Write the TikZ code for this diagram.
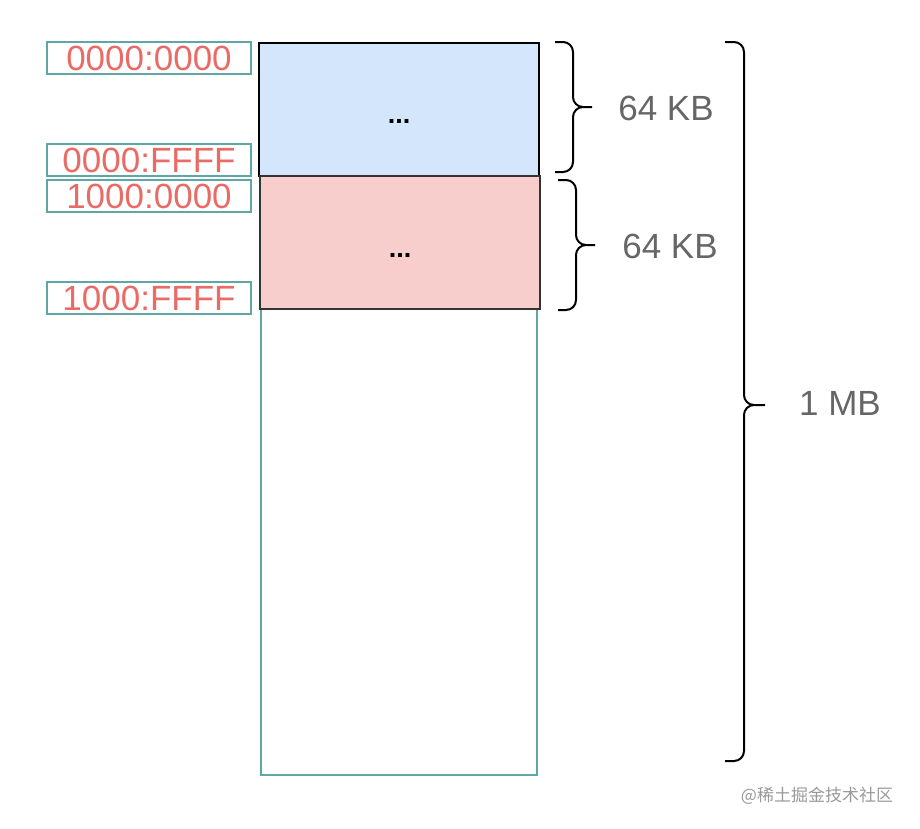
\documentclass[tikz,border=0pt]{standalone}
\usepackage{fontspec}
\setmainfont{Liberation Sans}
\newfontfamily\cjkfont{Noto Sans CJK SC}
\usepackage{tikz}
\usetikzlibrary{positioning}
\definecolor{addrred}{HTML}{EA6B66}
\definecolor{memteal}{HTML}{5FA7A5}
\definecolor{segblue}{HTML}{D4E6FB}
\definecolor{segpink}{HTML}{F8CECC}
\definecolor{sizegray}{HTML}{666666}

\begin{document}
\begin{tikzpicture}[x=1pt,y=-1pt,
    addr/.style={draw=memteal, line width=2pt, text=addrred, minimum width=204pt,
        minimum height=32pt, inner sep=0pt, text height=25pt, text depth=0pt,
        font=\fontsize{35}{40}\selectfont},
    seg/.style={line width=2pt, minimum width=280pt, minimum height=133pt, inner sep=0pt,
        text depth=0pt, font=\bfseries\fontsize{27}{30}\selectfont},
    size/.style={text=sizegray, font=\fontsize{35}{40}\selectfont},
    curly/.style={line width=2pt, rounded corners=10pt}]
\useasboundingbox (0,0) rectangle (920,828);
\node [draw=memteal, line width=2pt, minimum width=276pt, minimum height=600pt,
    anchor=south] (mem) at (399,776) {};
\node [seg, fill=segblue, draw=black, text height=28pt] (seg0) at (399,109) {...};
\node [seg, fill=segpink, draw=black!80, text height=29pt] (seg1) at (400,242.5) {...};
\node [addr] (a0) at (149,58) {0000:0000};
\node [addr] (a1) at (149,160) {0000:FFFF};
\node [addr] (a2) at (149,196) {1000:0000};
\node [addr] (a3) at (149,298) {1000:FFFF};
\draw [curly] (555,42) -| (573,107) -- (592,107) (555,172) -| (573,107) -- (592,107);
\draw [curly] (558,180) -| (576,245) -- (595,245) (558,310) -| (576,245) -- (595,245);
\draw [curly] (725,42) -| (744,405) -- (765,405) (725,761) -| (744,405) -- (765,405);
\node [size] (k0) at (666,108) {64 KB};
\node [size] (k1) at (670,246) {64 KB};
\node [size] (mb) at (840,403) {1 MB};
\node [text=black!40, font=\cjkfont\fontsize{17}{20}\selectfont] (wm) at (817,796) {@稀土掘金技术社区};
\end{tikzpicture}
\end{document}
